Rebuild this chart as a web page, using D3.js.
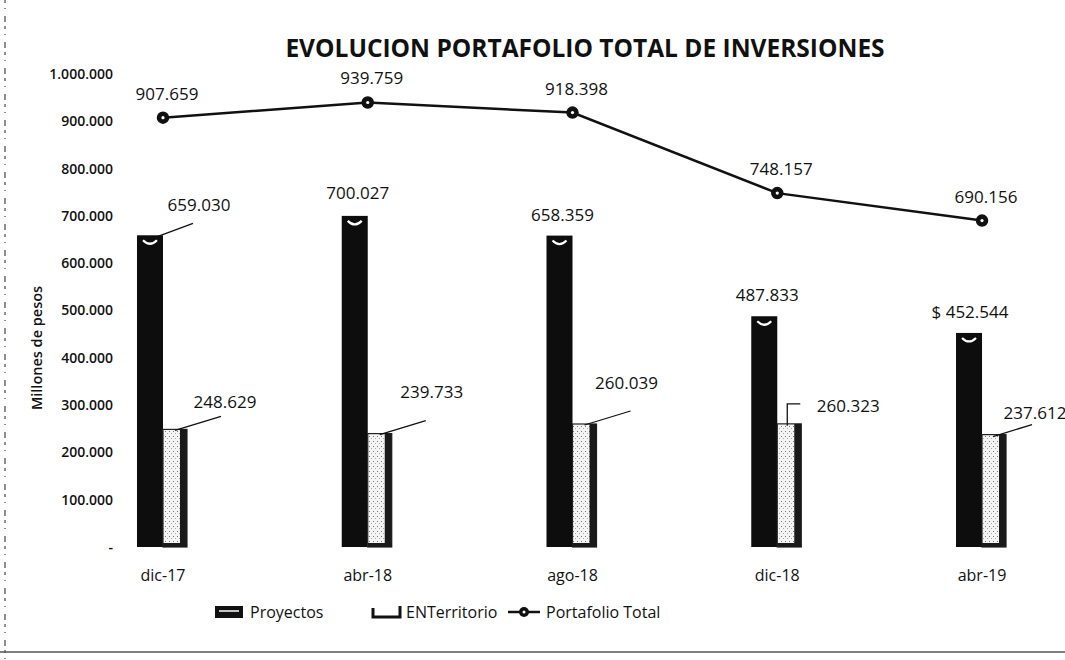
<!DOCTYPE html>
<html>
<head>
<meta charset="utf-8">
<script src="https://cdn.jsdelivr.net/npm/d3@7"></script>
<style>
  body { margin: 0; background: #fff; }
  svg { display: block; }
  text { font-family: "Open Sans", "Lato", sans-serif; fill: #111; }
</style>
</head>
<body>
<svg id="viz"></svg>
<script>
// data
var categories = ["dic-17", "abr-18", "ago-18", "dic-18", "abr-19"]
var proyectos = [659030, 700027, 658359, 487833, 452544]
var enterritorio = [248629, 239733, 260039, 260323, 237612]
var portafolio = [907659, 939759, 918398, 748157, 690156]
var yTicks = [0, 100000, 200000, 300000, 400000, 500000, 600000, 700000, 800000, 900000, 1000000]
var legendLabels = ["Proyectos", "ENTerritorio", "Portafolio Total"]

var width = 1065, height = 660

var es = d3.formatLocale({ decimal: ",", thousands: ".", grouping: [3], currency: ["$ ", ""] })
var fmt = es.format(",d")
var fmtMoney = es.format("$,d")

var svg = d3.select("#viz").attr("width", width).attr("height", height)

var defs = svg.append("defs")
var pat = defs.append("pattern")
  .attr("id", "stipple").attr("patternUnits", "userSpaceOnUse")
  .attr("width", 4).attr("height", 5)
pat.append("rect").attr("width", 4).attr("height", 5).attr("fill", "#f4f4f4")
pat.append("rect").attr("x", 1).attr("y", 1).attr("width", 1).attr("height", 1).attr("fill", "#777")
pat.append("rect").attr("x", 3).attr("y", 3).attr("width", 1).attr("height", 1).attr("fill", "#aaa")

var x = d3.scaleBand().domain(categories).range([60.6, 1084.4]).padding(0)
var y = d3.scaleLinear().domain([0, 1000000]).range([547, 74])
var center = function (d) { return x(d) + x.bandwidth() / 2 }
var pw = 26, ew = 24

// scan frame bits
svg.append("line")
  .attr("x1", 5).attr("x2", 5).attr("y1", 0).attr("y2", height)
  .attr("stroke", "#444").attr("stroke-width", 1.2)
  .attr("stroke-dasharray", "3,5,1,7,6,4")
svg.append("line")
  .attr("x1", 0).attr("x2", width).attr("y1", 652).attr("y2", 652)
  .attr("stroke", "#555").attr("stroke-width", 1.5)

// title
svg.append("text")
  .attr("x", 585).attr("y", 57)
  .attr("text-anchor", "middle")
  .style("font-size", "24.5px").style("font-weight", 700)
  .text("EVOLUCION PORTAFOLIO TOTAL DE INVERSIONES")

// y axis
var yAxis = d3.axisLeft(y).tickValues(yTicks).tickSize(0).tickPadding(0)
  .tickFormat(function (d) { return d === 0 ? "-" : fmt(d) })
var gy = svg.append("g").attr("transform", "translate(113,0)").call(yAxis)
gy.select(".domain").remove()
gy.selectAll("text")
  .style("font-size", "14px").style("font-weight", 600)
  .style("font-family", "'Open Sans', sans-serif").attr("fill", "#111")

svg.append("text")
  .attr("transform", "translate(42,348) rotate(-90)")
  .attr("text-anchor", "middle")
  .style("font-size", "14.5px").style("font-weight", 600)
  .text("Millones de pesos")

// x axis labels
var xAxis = d3.axisBottom(x).tickSize(0).tickPadding(0)
var gx = svg.append("g").attr("transform", "translate(0,570)").call(xAxis)
gx.select(".domain").remove()
gx.selectAll("text")
  .attr("dy", "0.71em")
  .style("font-size", "16px").style("font-family", "'Open Sans', sans-serif").attr("fill", "#111")

// Proyectos bars
var pBars = svg.append("g").selectAll("g").data(categories).enter().append("g")
pBars.append("rect")
  .attr("x", function (d) { return center(d) - pw })
  .attr("width", pw)
  .attr("y", function (d, i) { return y(proyectos[i]) })
  .attr("height", function (d, i) { return y(0) - y(proyectos[i]) })
  .attr("fill", "#0d0d0d")
pBars.append("path")
  .attr("d", function (d, i) {
    var cx = center(d) - pw / 2, t = y(proyectos[i]) + 5
    return "M" + (cx - 7) + "," + t + " Q" + cx + "," + (t + 7) + " " + (cx + 7) + "," + t
  })
  .attr("fill", "none").attr("stroke", "#fff").attr("stroke-width", 2.2)

// ENTerritorio bars
var eBars = svg.append("g").selectAll("g").data(categories).enter().append("g")
eBars.append("rect")
  .attr("x", function (d) { return center(d) })
  .attr("width", ew)
  .attr("y", function (d, i) { return y(enterritorio[i]) })
  .attr("height", function (d, i) { return y(0) - y(enterritorio[i]) })
  .attr("fill", "url(#stipple)").attr("stroke", "#222").attr("stroke-width", 1.2)
eBars.append("rect")
  .attr("x", function (d) { return center(d) + ew - 7 })
  .attr("width", 7)
  .attr("y", function (d, i) { return y(enterritorio[i]) })
  .attr("height", function (d, i) { return y(0) - y(enterritorio[i]) })
  .attr("fill", "#1a1a1a")
eBars.append("rect")
  .attr("x", function (d) { return center(d) })
  .attr("width", ew)
  .attr("y", y(0) - 4)
  .attr("height", 4)
  .attr("fill", "#1a1a1a")

// line
var line = d3.line()
  .x(function (d, i) { return center(categories[i]) })
  .y(function (d) { return y(d) })
svg.append("path").datum(portafolio)
  .attr("d", line).attr("fill", "none")
  .attr("stroke", "#111").attr("stroke-width", 2.5)
var pts = svg.append("g").selectAll("g").data(portafolio).enter().append("g")
  .attr("transform", function (d, i) { return "translate(" + center(categories[i]) + "," + y(d) + ")" })
pts.append("circle").attr("r", 5.5).attr("fill", "#111").attr("stroke", "#111").attr("stroke-width", 1.5)
pts.append("circle").attr("r", 1.6).attr("fill", "#fff")

// labels
var labelStyle = function (sel) {
  sel.attr("text-anchor", "middle").style("font-size", "17px")
}
svg.append("g").selectAll("text").data(portafolio).enter().append("text")
  .call(labelStyle)
  .attr("x", function (d, i) { return center(categories[i]) + 4 })
  .attr("y", function (d) { return y(d) - 18 })
  .text(fmt)

// Proyectos labels; first one sits to the right with a leader line
var pOff = [[36, -24], [-10, -17], [-10, -15], [-10, -15], [-12, -15]]
svg.append("g").selectAll("text").data(proyectos).enter().append("text")
  .call(labelStyle)
  .attr("x", function (d, i) { return center(categories[i]) + pOff[i][0] })
  .attr("y", function (d, i) { return y(d) + pOff[i][1] })
  .text(function (d, i) { return i === 4 ? fmtMoney(d) : fmt(d) })
svg.append("line")
  .attr("x1", center(categories[0]) - 5).attr("y1", y(proyectos[0]) + 1)
  .attr("x2", center(categories[0]) + 30).attr("y2", y(proyectos[0]) - 12)
  .attr("stroke", "#111").attr("stroke-width", 1.3)

// ENTerritorio labels with leader lines
var eOff = [[62, -21], [64, -36], [54, -35], [71, -12], [53, -16]]
svg.append("g").selectAll("text").data(enterritorio).enter().append("text")
  .call(labelStyle)
  .attr("x", function (d, i) { return center(categories[i]) + eOff[i][0] })
  .attr("y", function (d, i) { return y(d) + eOff[i][1] })
  .text(fmt)
svg.append("g").selectAll("path").data(enterritorio).enter().append("path")
  .attr("d", function (d, i) {
    var cx = center(categories[i]), t = y(d)
    if (i === 3) {
      return "M" + (cx + 10) + "," + (t + 2) + " L" + (cx + 10) + "," + (t - 20) + " L" + (cx + 23) + "," + (t - 20)
    }
    if (i === 4) {
      return "M" + (cx + 11) + "," + (t + 2) + " L" + (cx + 50) + "," + (t - 10)
    }
    return "M" + (cx + 12) + "," + (t + 1) + " L" + (cx + 58) + "," + (t - 13)
  })
  .attr("fill", "none").attr("stroke", "#111").attr("stroke-width", 1.3)

// legend
var lg = svg.append("g").attr("transform", "translate(0,612)")
var lx = [215, 373, 508]
lg.append("rect").attr("x", lx[0]).attr("y", -6).attr("width", 28).attr("height", 12).attr("fill", "#111")
lg.append("line").attr("x1", lx[0] + 4).attr("x2", lx[0] + 24).attr("y1", -1).attr("y2", -1)
  .attr("stroke", "#fff").attr("stroke-width", 1.5)
lg.append("path")
  .attr("d", "M" + lx[1] + ",-4 L" + lx[1] + ",5 L" + (lx[1] + 27) + ",5 L" + (lx[1] + 27) + ",-6")
  .attr("fill", "none").attr("stroke", "#111").attr("stroke-width", 3)
lg.append("line").attr("x1", lx[2]).attr("x2", lx[2] + 32).attr("y1", 0).attr("y2", 0)
  .attr("stroke", "#111").attr("stroke-width", 2.5)
lg.append("circle").attr("cx", lx[2] + 16).attr("cy", 0).attr("r", 5).attr("fill", "#111")
lg.append("circle").attr("cx", lx[2] + 16).attr("cy", 0).attr("r", 1.5).attr("fill", "#fff")
lg.selectAll("text.leg").data(legendLabels).enter().append("text")
  .attr("class", "leg")
  .attr("x", function (d, i) { return lx[i] + [35, 33, 38][i] })
  .attr("y", 6)
  .style("font-size", "16px")
  .text(function (d) { return d })
</script>
</body>
</html>
